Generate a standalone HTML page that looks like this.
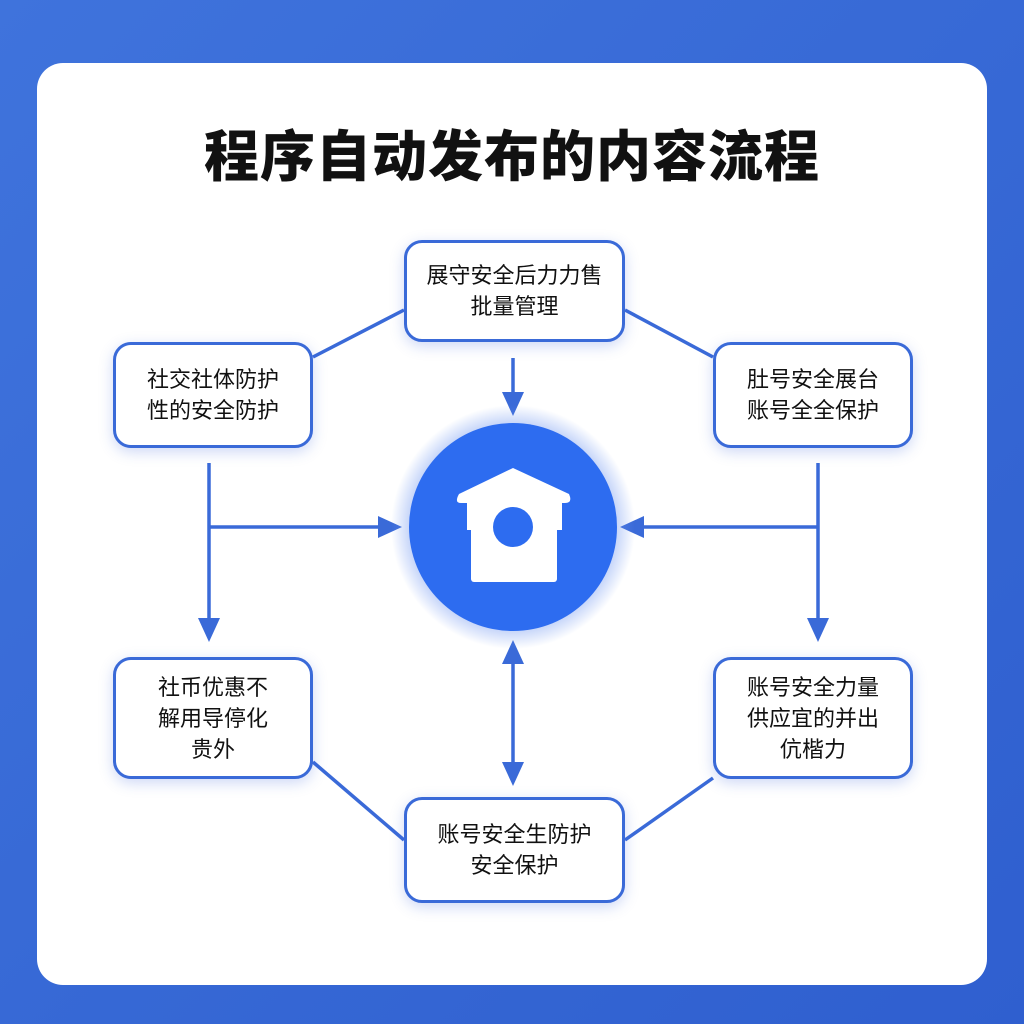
<!DOCTYPE html>
<html><head><meta charset="utf-8"><style>
html,body{margin:0;padding:0}
body{width:1024px;height:1024px;background:linear-gradient(135deg,#3f73dc,#2f5fcf);position:relative;overflow:hidden;font-family:"Liberation Sans","Noto Sans CJK SC",sans-serif}
.card{position:absolute;left:37px;top:63px;width:950px;height:922px;background:#fff;border-radius:26px}
h1{position:absolute;left:0;width:1024px;top:124px;margin:0;text-align:center;font-size:55px;font-weight:900;color:#111;letter-spacing:1px;line-height:66px}
.box{position:absolute;background:#fff;border:3px solid #3a6ad8;border-radius:18px;box-sizing:border-box;display:flex;align-items:center;justify-content:center;text-align:center;font-size:22px;line-height:31px;color:#111;box-shadow:0 4px 14px rgba(60,100,220,.25)}
</style></head><body>
<div class="card"></div>
<h1>程序自动发布的内容流程</h1>
<svg width="1024" height="1024" style="position:absolute;left:0;top:0">
<defs><radialGradient id="g"><stop offset="0.8" stop-color="#6a92f0" stop-opacity=".5"/><stop offset="1" stop-color="#6a92f0" stop-opacity="0"/></radialGradient></defs>
<g stroke="#3a6ad8" stroke-width="3.5" fill="none">
<line x1="404" y1="310" x2="313" y2="357"/>
<line x1="625" y1="310" x2="713" y2="357"/>
<line x1="313" y1="762" x2="404" y2="840"/>
<line x1="625" y1="840" x2="713" y2="778"/>
<line x1="209" y1="463" x2="209" y2="620"/>
<line x1="209" y1="527" x2="380" y2="527"/>
<line x1="818" y1="463" x2="818" y2="620"/>
<line x1="818" y1="527" x2="640" y2="527"/>
<line x1="513" y1="358" x2="513" y2="395"/>
<line x1="513" y1="660" x2="513" y2="765"/>
</g>
<g fill="#3a6ad8">
<polygon points="198,618 220,618 209,642"/>
<polygon points="807,618 829,618 818,642"/>
<polygon points="378,516 378,538 402,527"/>
<polygon points="644,516 644,538 620,527"/>
<polygon points="502,392 524,392 513,416"/>
<polygon points="502,664 524,664 513,640"/>
<polygon points="502,762 524,762 513,786"/>
</g>
<circle cx="513" cy="527" r="122" fill="url(#g)"/>
<circle cx="513" cy="527" r="104" fill="#2d6cf0"/>
<g fill="#fff">
<path d="M459 494 L513 468 L569 494 Q573 503 565 503 L461 503 Q454 503 459 494Z"/>
<rect x="467" y="500" width="95" height="30"/>
<rect x="471" y="527" width="86" height="55" rx="3"/>
</g>
<circle cx="513" cy="527" r="20" fill="#2d6cf0"/>
</svg>
<div class="box" style="left:404px;top:240px;width:221px;height:102px">展守安全后力力售<br>批量管理</div>
<div class="box" style="left:113px;top:342px;width:200px;height:106px">社交社体防护<br>性的安全防护</div>
<div class="box" style="left:713px;top:342px;width:200px;height:106px">肚号安全展台<br>账号全全保护</div>
<div class="box" style="left:113px;top:657px;width:200px;height:122px">社币优惠不<br>解用导停化<br>贵外</div>
<div class="box" style="left:713px;top:657px;width:200px;height:122px">账号安全力量<br>供应宜的并出<br>伉楷力</div>
<div class="box" style="left:404px;top:797px;width:221px;height:106px">账号安全生防护<br>安全保护</div>
</body></html>
